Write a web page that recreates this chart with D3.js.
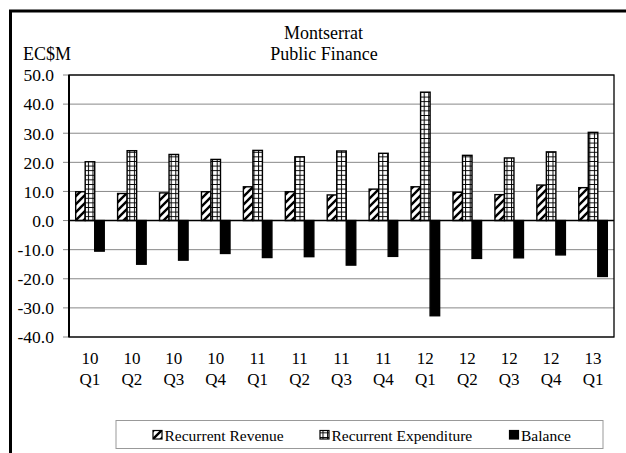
<!DOCTYPE html>
<html><head><meta charset="utf-8">
<script src="https://cdn.jsdelivr.net/npm/d3@7"></script>
<style>body{margin:0;background:#fff}svg{display:block}</style>
</head><body>
<div id="chart"></div>
<script>
const years = ["10","10","10","10","11","11","11","11","12","12","12","12","13"];
const quarters = ["Q1","Q2","Q3","Q4","Q1","Q2","Q3","Q4","Q1","Q2","Q3","Q4","Q1"];
const revenue = [9.9,9.3,9.5,9.9,11.6,9.9,8.8,10.8,11.6,9.7,8.9,12.2,11.3];
const expenditure = [20.2,24.0,22.7,21.0,24.1,21.9,23.9,23.1,44.1,22.4,21.5,23.6,30.3];
const balance = [-10.5,-15.0,-13.6,-11.3,-12.7,-12.4,-15.3,-12.3,-32.7,-13.0,-12.8,-11.8,-19.2];
const seriesNames = ["Recurrent Revenue","Recurrent Expenditure","Balance"];
const yTicks = [50,40,30,20,10,0,-10,-20,-30,-40];

const FONT = "Liberation Serif, Times New Roman, Times, serif";
const W = 626, H = 453;
const svg = d3.select("#chart").append("svg").attr("width", W).attr("height", H)
  .attr("font-family", FONT);
const defs = svg.append("defs");

// hatch pattern
const ph = defs.append("pattern").attr("id","hatch").attr("patternUnits","userSpaceOnUse")
  .attr("width",8).attr("height",8);
ph.append("rect").attr("width",8).attr("height",8).attr("fill","#fff");
ph.append("path").attr("d","M-2,10 L10,-2 M-6,6 L6,-6 M2,14 L14,2").attr("stroke","#000").attr("stroke-width",2.4);

// grid pattern
const pg = defs.append("pattern").attr("id","grid").attr("patternUnits","userSpaceOnUse")
  .attr("width",4.6).attr("height",4.6).attr("x",0.5);
pg.append("rect").attr("width",4.6).attr("height",4.6).attr("fill","#fff");
pg.append("path").attr("d","M0,0 H4.6 M0,0 V4.6").attr("stroke","#000").attr("stroke-width",2);

// outer border
svg.append("rect").attr("x",10.5).attr("y",11).attr("width",W+10).attr("height",H+10)
  .attr("fill","none").attr("stroke","#000").attr("stroke-width",3);

const m = {left:69, right:614, top:75, bottom:337};
const x = d3.scaleBand().domain(d3.range(years.length)).range([m.left, m.right]);
const y = d3.scaleLinear().domain([-40,50]).range([m.bottom, m.top]);
const fmt = d => d.toFixed(1);

// gridlines
svg.append("g").selectAll("line").data(yTicks).join("line")
  .attr("x1", m.left-6).attr("x2", m.right).attr("y1", d=>y(d)).attr("y2", d=>y(d))
  .attr("stroke","#888").attr("stroke-width",1);

// y axis labels
svg.append("g").selectAll("text").data(yTicks).join("text")
  .attr("x", 54).attr("y", d=>y(d)+6.3).attr("text-anchor","end").attr("font-size",17.5)
  .text(fmt);

// bars
const bw = x.bandwidth()*0.227;
const off = (x.bandwidth() - 3*bw)/2;
const series = [
  {vals: revenue, fill:"url(#hatch)", i:0},
  {vals: expenditure, fill:"url(#grid)", i:1},
  {vals: balance, fill:"#000", i:2}
];
series.forEach(s => {
  svg.append("g").selectAll("rect").data(s.vals).join("rect")
    .attr("x",(d,i)=>x(i)+off+s.i*bw)
    .attr("width",bw)
    .attr("y",d=>y(Math.max(0,d)))
    .attr("height",d=>Math.abs(y(d)-y(0)))
    .attr("fill",s.fill).attr("stroke","#000").attr("stroke-width",1.4);
});

// zero line
svg.append("line").attr("x1",m.left).attr("x2",m.right).attr("y1",y(0)).attr("y2",y(0))
  .attr("stroke","#000").attr("stroke-width",1.5);

// plot frame
svg.append("rect").attr("x",m.left).attr("y",m.top).attr("width",m.right-m.left).attr("height",m.bottom-m.top)
  .attr("fill","none").attr("stroke","#000").attr("stroke-width",1.3);
svg.append("line").attr("x1",m.left).attr("x2",m.left).attr("y1",m.top).attr("y2",m.bottom)
  .attr("stroke","#000").attr("stroke-width",2);

// x labels
const xl = svg.append("g").selectAll("g").data(years).join("g");
xl.append("text").attr("x",(d,i)=>x(i)+x.bandwidth()/2).attr("y",364).attr("text-anchor","middle")
  .attr("font-size",17).text(d=>d);
xl.append("text").attr("x",(d,i)=>x(i)+x.bandwidth()/2).attr("y",385).attr("text-anchor","middle")
  .attr("font-size",17).text((d,i)=>quarters[i]);

// title
svg.append("text").attr("x",323.5).attr("y",38.5).attr("text-anchor","middle").attr("font-size",18).text("Montserrat");
svg.append("text").attr("x",324).attr("y",59.5).attr("text-anchor","middle").attr("font-size",18).text("Public Finance");
svg.append("text").attr("x",23).attr("y",59.5).attr("font-size",18).text("EC$M");

// legend
svg.append("rect").attr("x",116).attr("y",420.5).attr("width",487).attr("height",28)
  .attr("fill","#fff").attr("stroke","#999").attr("stroke-width",1);
const legX = [153, 320, 509.5];
const legFill = ["url(#hatch)","url(#grid)","#000"];
seriesNames.forEach((n,i)=>{
  svg.append("rect").attr("x",legX[i]).attr("y",430.5).attr("width",9).attr("height",8.5)
    .attr("fill",legFill[i]).attr("stroke","#000").attr("stroke-width",1.2);
  svg.append("text").attr("x",legX[i]+11.5).attr("y",440.5).attr("font-size",15.5).text(n);
});
</script>
</body></html>
